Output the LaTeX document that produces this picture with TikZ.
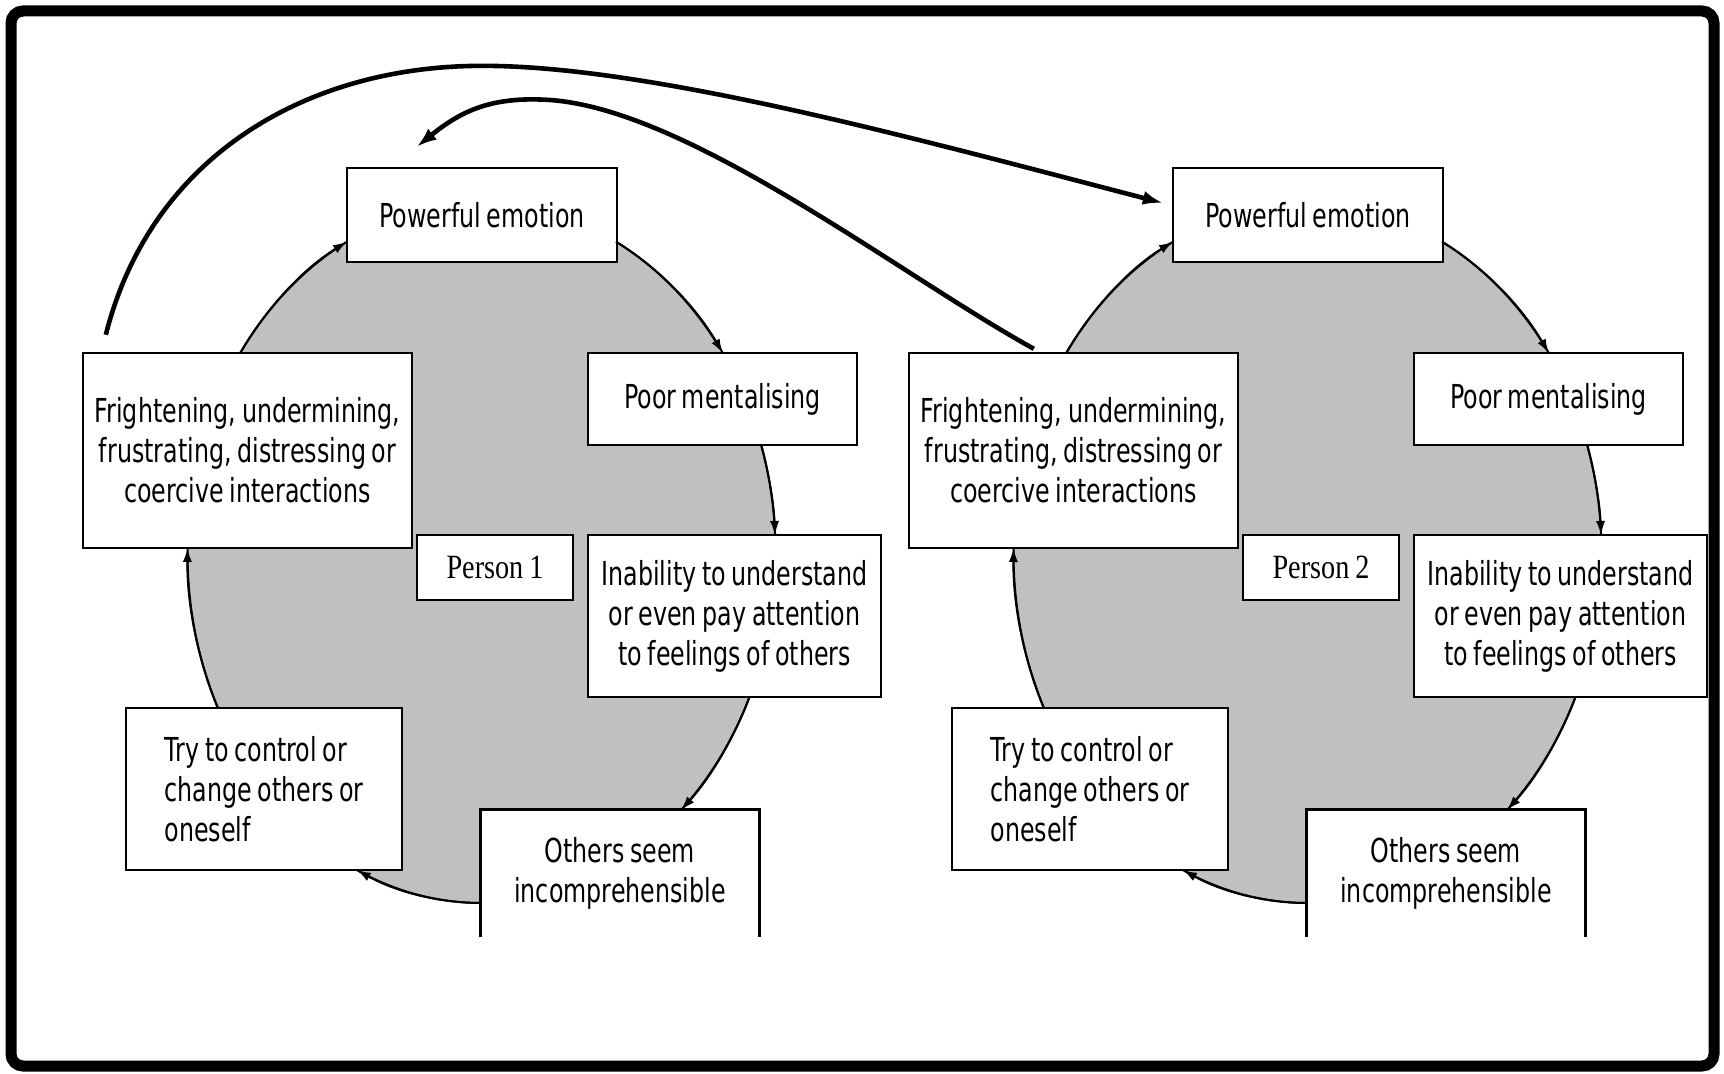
\documentclass[tikz,border=0pt]{standalone}
\usepackage{fontspec}
\setmainfont{DejaVu Sans}[FakeStretch=0.72,WordSpace=0.75]
\newfontfamily\personfont{Liberation Serif}[FakeStretch=0.83,WordSpace=0.85]
\usetikzlibrary{arrows.meta,calc}
\definecolor{cycgray}{RGB}{192,192,192}
\begin{document}
\begin{tikzpicture}[x=0.5pt,y=-0.5pt,
  box/.style={draw=black, line width=1.2pt, fill=white, inner sep=0pt, align=center, font=\fontsize{16.5}{20}\selectfont},
  openbox/.style={fill=white, inner sep=0pt, align=center, font=\fontsize{16.5}{20}\selectfont},
  personbox/.style={draw=black, line width=1.2pt, fill=white, inner sep=0pt, font=\personfont\fontsize{17}{20}\selectfont},
  cyc/.style={line width=1pt, -{Latex[length=7pt,width=4.6pt]}},
  big/.style={line width=2.3pt, -{Latex[length=10pt,width=7pt]}},
  frame/.style={line width=5.5pt, rounded corners=6pt}
]
\useasboundingbox (0,0) rectangle (1724,1074);
\fill[white] (0,0) rectangle (1724,1074);
\draw[frame] (11,11) rectangle (1714,1066);

\foreach \n/\dx in {1/0,2/826}{
  \coordinate (E\n) at (481.5+\dx,553);
  \filldraw[fill=cycgray, draw=black, line width=1pt] (E\n) ellipse[x radius=147pt, y radius=175pt];
  \node[box, minimum width=135pt, minimum height=47pt] (PE\n) at (482+\dx,215) {Powerful emotion};
  \node[box, minimum width=134.5pt, minimum height=46pt] (PM\n) at (722.5+\dx,399) {Poor mentalising};
  \node[box, minimum width=146.5pt, minimum height=81pt] (IN\n) at (734.5+\dx,616) {Inability to understand\\or even pay attention\\to feelings of others};
  \node[openbox, minimum width=139pt, minimum height=63.5pt] (OS\n) at (620+\dx,873.5) {Others seem\\incomprehensible};
  \draw[line width=1.2pt] (OS\n.south west) -- (OS\n.north west) -- (OS\n.north east) -- (OS\n.south east);
  \node[box, align=left, minimum width=138pt, minimum height=81pt] (TC\n) at (264+\dx,789) {Try to control or\\change others or\\oneself};
  \node[box, minimum width=164.5pt, minimum height=97.5pt] (FR\n) at (247.5+\dx,450.5) {Frightening, undermining,\\frustrating, distressing or\\coercive interactions};
  \node[personbox, minimum width=78pt, minimum height=32.5pt] (P\n) at (495+\dx,567.5) {Person \n};
  % cycle connectors along the ellipse
  \draw[cyc] ($(E\n)+(145.15:147pt and 175pt)$) arc[start angle=145.15,end angle=117.22,x radius=147pt,y radius=175pt];
  \draw[cyc] ($(E\n)+(62.78:147pt and 175pt)$) arc[start angle=62.78,end angle=34.85,x radius=147pt,y radius=175pt];
  \draw[cyc] ($(E\n)+(17.97:147pt and 175pt)$) arc[start angle=17.97,end angle=2.95,x radius=147pt,y radius=175pt];
  \draw[cyc] ($(E\n)+(-24.29:147pt and 175pt)$) arc[start angle=-24.29,end angle=-47.25,x radius=147pt,y radius=175pt];
  \draw[cyc] ($(E\n)+(-90:147pt and 175pt)$) arc[start angle=-90,end angle=-115.08,x radius=147pt,y radius=175pt];
  \draw[cyc] ($(E\n)+(-153.71:147pt and 175pt)$) arc[start angle=-153.71,end angle=-180.82,x radius=147pt,y radius=175pt];
}

\draw[big] ([shift={(12pt,8.5pt)}]FR1.north west) .. controls (150,160) and (300,70) .. (470,66)
  .. controls (640,62) and (920,140) .. ([shift={(-4.5pt,6pt)}]PE2.west);
\draw[big] ([xshift=63pt,yshift=1.5pt]FR2.north west) .. controls (900,275) and (690,110) .. (550,100)
  .. controls (490,96) and (460,112) .. ([shift={(35.5pt,10pt)}]PE1.north west);
\end{tikzpicture}
\end{document}
